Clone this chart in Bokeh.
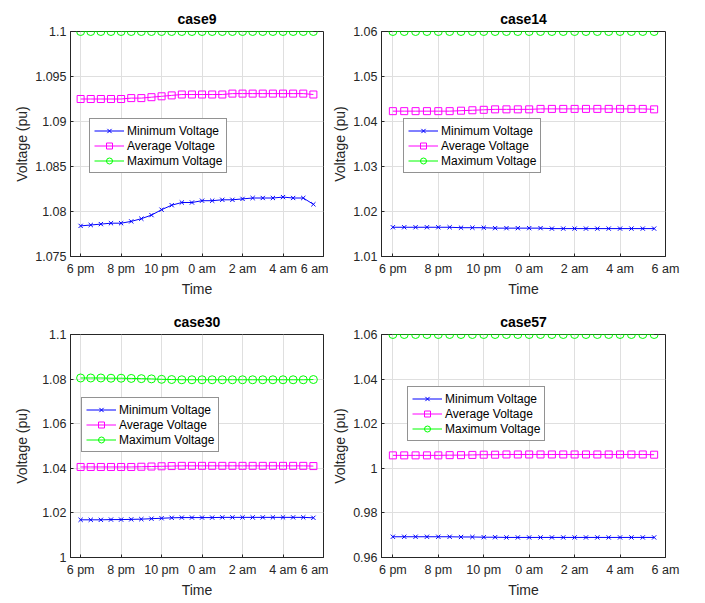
from bokeh.plotting import figure
from bokeh.models import Range1d, FixedTicker, CustomJSTickFormatter
from bokeh.layouts import column, row
from bokeh.embed import file_html
from bokeh.resources import INLINE

# ---------------- data ----------------
times = [18.0, 18.5, 19.0, 19.5, 20.0, 20.5, 21.0, 21.5, 22.0, 22.5, 23.0, 23.5,
         24.0, 24.5, 25.0, 25.5, 26.0, 26.5, 27.0, 27.5, 28.0, 28.5, 29.0, 29.5]
x_ticks = [18, 20, 22, 24, 26, 28, 30]
x_tick_labels = ["6 pm", "8 pm", "10 pm", "0 am", "2 am", "4 am", "6 am"]

series_names = ["Minimum Voltage", "Average Voltage", "Maximum Voltage"]

case9_min = [1.0784, 1.0785, 1.0786, 1.0787, 1.0787, 1.0789, 1.0792, 1.0796, 1.0802, 1.0807, 1.0810, 1.0810,
             1.0812, 1.0812, 1.0813, 1.0813, 1.0814, 1.0815, 1.0815, 1.0815, 1.0816, 1.0815, 1.0815, 1.0808]
case9_avg = [1.0925, 1.0925, 1.0925, 1.0925, 1.0925, 1.0926, 1.0926, 1.0927, 1.0928, 1.0929, 1.0930, 1.0930,
             1.0930, 1.0930, 1.0930, 1.0931, 1.0931, 1.0931, 1.0931, 1.0931, 1.0931, 1.0931, 1.0931, 1.0930]
case9_max = [1.1, 1.1, 1.1, 1.1, 1.1, 1.1, 1.1, 1.1, 1.1, 1.1, 1.1, 1.1,
             1.1, 1.1, 1.1, 1.1, 1.1, 1.1, 1.1, 1.1, 1.1, 1.1, 1.1, 1.1]

case14_min = [1.0165, 1.0165, 1.0165, 1.0165, 1.0165, 1.0165, 1.0164, 1.0164, 1.0164, 1.0163, 1.0163, 1.0163,
              1.0163, 1.0163, 1.0162, 1.0162, 1.0162, 1.0162, 1.0162, 1.0162, 1.0162, 1.0162, 1.0162, 1.0162]
case14_avg = [1.0423, 1.0423, 1.0423, 1.0423, 1.0423, 1.0423, 1.0424, 1.0425, 1.0426, 1.0427, 1.0427, 1.0427,
              1.0427, 1.0428, 1.0428, 1.0428, 1.0428, 1.0428, 1.0428, 1.0428, 1.0428, 1.0428, 1.0428, 1.0427]
case14_max = [1.06, 1.06, 1.06, 1.06, 1.06, 1.06, 1.06, 1.06, 1.06, 1.06, 1.06, 1.06,
              1.06, 1.06, 1.06, 1.06, 1.06, 1.06, 1.06, 1.06, 1.06, 1.06, 1.06, 1.06]

case30_min = [1.0169, 1.0169, 1.0169, 1.0170, 1.0170, 1.0171, 1.0172, 1.0174, 1.0176, 1.0178, 1.0179, 1.0179,
              1.0179, 1.0179, 1.0180, 1.0180, 1.0180, 1.0180, 1.0180, 1.0180, 1.0180, 1.0180, 1.0180, 1.0178]
case30_avg = [1.0406, 1.0406, 1.0406, 1.0406, 1.0406, 1.0406, 1.0407, 1.0408, 1.0409, 1.0410, 1.0411, 1.0411,
              1.0411, 1.0411, 1.0411, 1.0411, 1.0411, 1.0411, 1.0411, 1.0411, 1.0411, 1.0411, 1.0411, 1.0410]
case30_max = [1.0805, 1.0805, 1.0805, 1.0804, 1.0804, 1.0803, 1.0802, 1.0801, 1.0799, 1.0798, 1.0797, 1.0797,
              1.0797, 1.0797, 1.0797, 1.0797, 1.0797, 1.0797, 1.0797, 1.0797, 1.0797, 1.0797, 1.0797, 1.0798]

case57_min = [0.9693, 0.9693, 0.9693, 0.9693, 0.9693, 0.9693, 0.9692, 0.9692, 0.9691, 0.9691, 0.9690, 0.9690,
              0.9690, 0.9690, 0.9690, 0.9690, 0.9690, 0.9690, 0.9690, 0.9690, 0.9690, 0.9690, 0.9690, 0.9690]
case57_avg = [1.0058, 1.0058, 1.0058, 1.0058, 1.0058, 1.0059, 1.0059, 1.0060, 1.0061, 1.0061, 1.0062, 1.0062,
              1.0062, 1.0062, 1.0062, 1.0062, 1.0062, 1.0062, 1.0062, 1.0062, 1.0062, 1.0062, 1.0062, 1.0061]
case57_max = [1.06, 1.06, 1.06, 1.06, 1.06, 1.06, 1.06, 1.06, 1.06, 1.06, 1.06, 1.06,
              1.06, 1.06, 1.06, 1.06, 1.06, 1.06, 1.06, 1.06, 1.06, 1.06, 1.06, 1.06]

case9_yticks = [1.075, 1.08, 1.085, 1.09, 1.095, 1.1]
case14_yticks = [1.01, 1.02, 1.03, 1.04, 1.05, 1.06]
case30_yticks = [1.0, 1.02, 1.04, 1.06, 1.08, 1.1]
case57_yticks = [0.96, 0.98, 1.0, 1.02, 1.04, 1.06]

# ---------------- styling ----------------
FONT = "Liberation Sans"
AXC = "#262626"
GRID = "#dfdfdf"
COLORS = ["#0000ff", "#ff00ff", "#00ff00"]
MARKERS = ["x", "square", "circle"]
MSIZE = [6, 7, 8]

yfmt_code = "return String(parseFloat(tick.toFixed(4)));"


def make(title, y_ticks, ys, width, height, bl, br, bt, bb, legend_xy, ylab_standoff):
    p = figure(width=width, height=height, output_backend="svg", toolbar_location=None,
               x_range=Range1d(17.5, 30), y_range=Range1d(y_ticks[0], y_ticks[-1]),
               min_border_left=bl, min_border_right=br, min_border_top=bt, min_border_bottom=bb,
               background_fill_color="white", border_fill_color="white")
    p.outline_line_color = AXC
    p.outline_line_width = 1

    p.title.text = title
    p.title.align = "center"
    p.title.text_font = FONT
    p.title.text_font_size = "14px"
    p.title.text_font_style = "bold"
    p.title.text_color = "black"
    p.title.standoff = 10

    p.xaxis.ticker = FixedTicker(ticks=x_ticks)
    p.xaxis.major_label_overrides = dict(zip(x_ticks, x_tick_labels))
    p.yaxis.ticker = FixedTicker(ticks=y_ticks)
    p.yaxis.formatter = CustomJSTickFormatter(code=yfmt_code)
    p.xaxis.axis_label = "Time"
    p.yaxis.axis_label = "Voltage (pu)"
    for ax in (p.xaxis[0], p.yaxis[0]):
        ax.axis_line_color = AXC
        ax.major_tick_line_color = AXC
        ax.major_tick_in = 3
        ax.major_tick_out = 0
        ax.minor_tick_line_color = None
        ax.major_label_text_font = FONT
        ax.major_label_text_font_size = "12.5px"
        ax.major_label_text_color = AXC
        ax.axis_label_text_font = FONT
        ax.axis_label_text_font_size = "14px"
        ax.axis_label_text_font_style = "normal"
        ax.axis_label_text_color = AXC
    p.xaxis.major_label_standoff = 5
    p.yaxis.major_label_standoff = 4
    p.xaxis.axis_label_standoff = 2
    p.yaxis.axis_label_standoff = ylab_standoff

    p.xgrid.ticker = FixedTicker(ticks=x_ticks)
    p.ygrid.ticker = FixedTicker(ticks=y_ticks)
    p.grid.grid_line_color = GRID
    p.grid.grid_line_width = 1

    for name, y, c, m, s in zip(series_names, ys, COLORS, MARKERS, MSIZE):
        p.line(times, y, line_color=c, line_width=1, legend_label=name)
        p.scatter(times, y, marker=m, size=s, line_color=c, fill_color=None,
                  line_width=1, legend_label=name)

    lg = p.legend[0]
    lg.location = legend_xy
    lg.label_text_font = FONT
    lg.label_text_font_size = "12px"
    lg.label_text_color = "black"
    lg.border_line_color = AXC
    lg.border_line_width = 1
    lg.background_fill_color = "white"
    lg.background_fill_alpha = 1
    lg.padding = 4
    lg.spacing = 0
    lg.margin = 0
    lg.glyph_width = 30
    lg.glyph_height = 15
    lg.label_height = 15
    lg.label_standoff = 3
    return p


LW, RW = 328, 372
TH, BH = 300, 300

p1 = make("case9", case9_yticks, [case9_min, case9_avg, case9_max],
          LW, TH, 70, 5, 31, 44, (19, 83), 2)
p2 = make("case14", case14_yticks, [case14_min, case14_avg, case14_max],
          RW, TH, 53, 35, 31, 44, (22, 83), 2)
p3 = make("case30", case30_yticks, [case30_min, case30_avg, case30_max],
          LW, BH, 70, 5, 34, 42, (11, 105), 9)
p4 = make("case57", case57_yticks, [case57_min, case57_avg, case57_max],
          RW, BH, 53, 35, 34, 42, (26, 116), 2)

layout = column(row(p1, p2), row(p3, p4))

with open("out.html", "w") as f:
    f.write(file_html(layout, INLINE))
